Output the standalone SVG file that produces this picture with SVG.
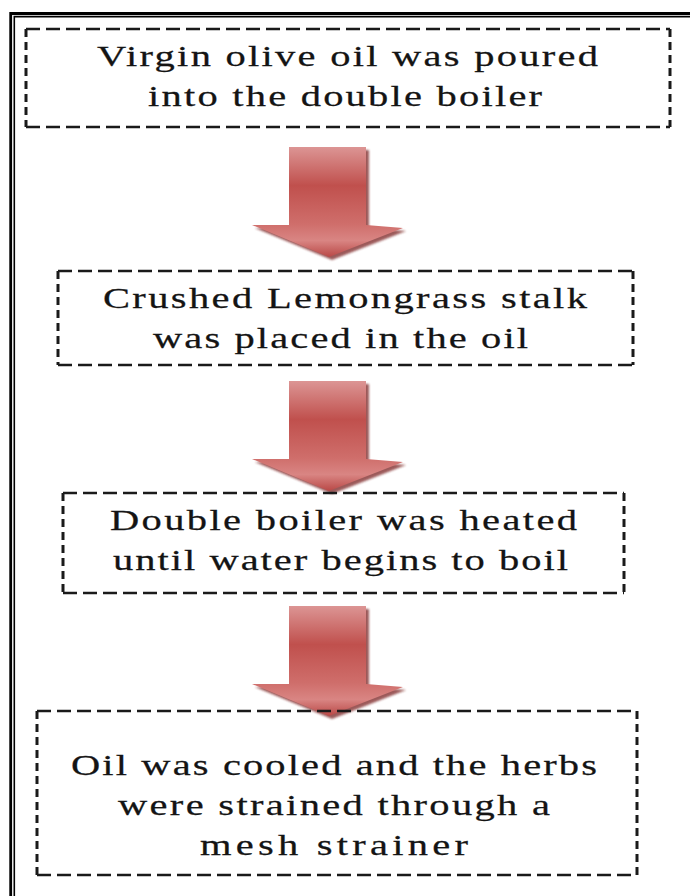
<svg xmlns="http://www.w3.org/2000/svg" width="690" height="896" viewBox="0 0 690 896">
  <style>
    .hd { fill: none; stroke: #1a1a1a; stroke-width: 2.6; stroke-dasharray: 14 6; }
    .vd { fill: none; stroke: #1a1a1a; stroke-width: 3; stroke-dasharray: 8 5; }
    .lbl { font-family: "Liberation Serif", "Times New Roman", serif; font-size: 30px; fill: #141414; stroke: #141414; stroke-width: 0.25; }
    .arrow { fill: url(#arrowFill); }
    .shadow { fill: #7a2422; opacity: 0.75; filter: url(#soft); }
  </style>
  <defs>
    <linearGradient id="arrowFill" x1="0" y1="0" x2="0" y2="1">
      <stop offset="0" stop-color="#dc9594"/>
      <stop offset="0.35" stop-color="#c0504d"/>
      <stop offset="0.7" stop-color="#cf6e6b"/>
      <stop offset="0.85" stop-color="#d98583"/>
      <stop offset="1" stop-color="#b94846"/>
    </linearGradient>
    <filter id="soft" x="-10%" y="-10%" width="120%" height="120%">
      <feGaussianBlur stdDeviation="1.2"/>
    </filter>
    <polygon id="arrowShape" points="0,0 77,0 77,78 114,81 40,110 -37,78 0,78"/>
  </defs>

  <rect width="690" height="896" fill="#ffffff"/>

  <!-- double page frame -->
  <g id="frame" fill="none" stroke="#000">
    <path d="M10.7,900 V13.5 H700" stroke-width="2.8"/>
    <path d="M14.3,900 V16.6 H700" stroke-width="1.6"/>
  </g>

  <!-- connectors: block arrows -->
  <g id="connectors">
    <g transform="translate(289,147)">
      <use href="#arrowShape" class="shadow" transform="translate(3,3)"/>
      <use href="#arrowShape" class="arrow"/>
    </g>
    <g transform="translate(289,381)">
      <use href="#arrowShape" class="shadow" transform="translate(3,3)"/>
      <use href="#arrowShape" class="arrow"/>
    </g>
    <g transform="translate(289,606)">
      <use href="#arrowShape" class="shadow" transform="translate(3,3)"/>
      <use href="#arrowShape" class="arrow"/>
    </g>
  </g>

  <g id="step1">
    <path class="hd" d="M26,29 H670 M26,127 H670"/>
    <path class="vd" d="M26,29 V127 M670,29 V127"/>
    <text class="lbl" transform="translate(97,66) scale(1.35,1)" textLength="371.1" lengthAdjust="spacing">Virgin olive oil was poured</text>
    <text class="lbl" transform="translate(148,106) scale(1.35,1)" textLength="291.9" lengthAdjust="spacing">into the double boiler</text>
  </g>

  <g id="step2">
    <path class="hd" d="M58,271 H633 M58,365 H633"/>
    <path class="vd" d="M58,271 V365 M633,271 V365"/>
    <text class="lbl" transform="translate(103,308) scale(1.35,1)" textLength="358.5" lengthAdjust="spacing">Crushed Lemongrass stalk</text>
    <text class="lbl" transform="translate(153,348) scale(1.35,1)" textLength="277.8" lengthAdjust="spacing">was placed in the oil</text>
  </g>

  <g id="step3">
    <path class="hd" d="M63,493 H624 M63,593 H624"/>
    <path class="vd" d="M63,493 V593 M624,493 V593"/>
    <text class="lbl" transform="translate(110,530) scale(1.35,1)" textLength="345.9" lengthAdjust="spacing">Double boiler was heated</text>
    <text class="lbl" transform="translate(113,570) scale(1.35,1)" textLength="337" lengthAdjust="spacing">until water begins to boil</text>
  </g>

  <g id="step4">
    <path class="hd" d="M37,711 H637 M37,875 H637"/>
    <path class="vd" d="M37,711 V875 M637,711 V875"/>
    <text class="lbl" transform="translate(71,775) scale(1.35,1)" textLength="389.6" lengthAdjust="spacing">Oil was cooled and the herbs</text>
    <text class="lbl" transform="translate(118,815) scale(1.35,1)" textLength="320" lengthAdjust="spacing">were strained through a</text>
    <text class="lbl" transform="translate(200,855) scale(1.35,1)" textLength="198.5" lengthAdjust="spacing">mesh strainer</text>
  </g>
</svg>
